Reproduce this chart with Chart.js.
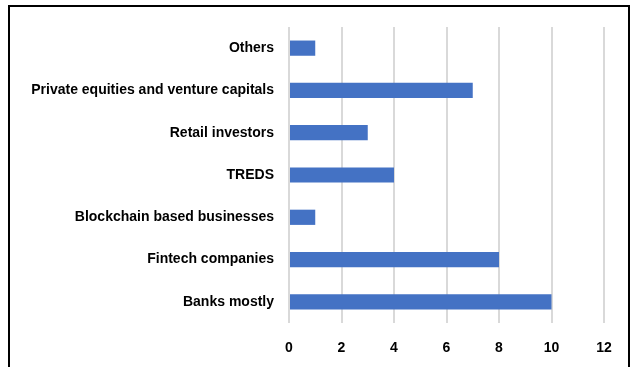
<!DOCTYPE html>
<html lang="en">
<head>
    <meta charset="UTF-8">
    <title>Funding sources</title>
    <script src="https://cdn.jsdelivr.net/npm/chart.js"></script>
    <style>
        html, body {
            margin: 0;
            padding: 0;
            background: #fff;
        }

        #chart-container {
            position: relative;
            width: 632px;
            height: 367px;
        }
    </style>
</head>
<body>
    <div id="chart-container">
        <canvas id="fundingChart" width="632" height="367"></canvas>
    </div>

    <script>
        const categories = [
            'Others',
            'Private equities and venture capitals',
            'Retail investors',
            'TREDS',
            'Blockchain based businesses',
            'Fintech companies',
            'Banks mostly'
        ];
        const counts = [1, 7, 3, 4, 1, 8, 10];
        const xTicks = [0, 2, 4, 6, 8, 10, 12];

        // frame around the whole chart
        const framePlugin = {
            id: 'frame',
            beforeDraw(chart) {
                const ctx = chart.ctx;
                ctx.save();
                ctx.strokeStyle = '#000';
                ctx.lineWidth = 2;
                ctx.strokeRect(9, 6, 620, 380);
                ctx.restore();
            }
        };

        const labelFont = { family: "'Liberation Sans', Arial, sans-serif", size: 14, weight: 'bold' };

        new Chart(document.getElementById('fundingChart').getContext('2d'), {
            type: 'bar',
            data: {
                labels: categories,
                datasets: [{
                    data: counts,
                    backgroundColor: '#4472C4',
                    borderWidth: 0,
                    barPercentage: 0.36,
                    categoryPercentage: 1
                }]
            },
            options: {
                indexAxis: 'y',
                responsive: false,
                animation: false,
                layout: { padding: { top: 27, right: 28, left: 0, bottom: 0 } },
                plugins: {
                    legend: { display: false },
                    tooltip: { enabled: false }
                },
                scales: {
                    x: {
                        min: 0,
                        max: 12,
                        afterBuildTicks(axis) {
                            axis.ticks = xTicks.map(v => ({ value: v }));
                        },
                        afterFit(axis) {
                            axis.height = 44;
                        },
                        grid: { color: '#d9d9d9', lineWidth: 2, drawTicks: false },
                        border: { display: false },
                        ticks: { color: '#000', font: labelFont, padding: 17, maxRotation: 0 }
                    },
                    y: {
                        afterFit(axis) {
                            axis.width = 289;
                        },
                        grid: { display: false, drawTicks: false, tickLength: 0 },
                        border: { display: false },
                        ticks: { color: '#000', font: labelFont, padding: 15 }
                    }
                }
            },
            plugins: [framePlugin]
        });
    </script>
</body>
</html>
